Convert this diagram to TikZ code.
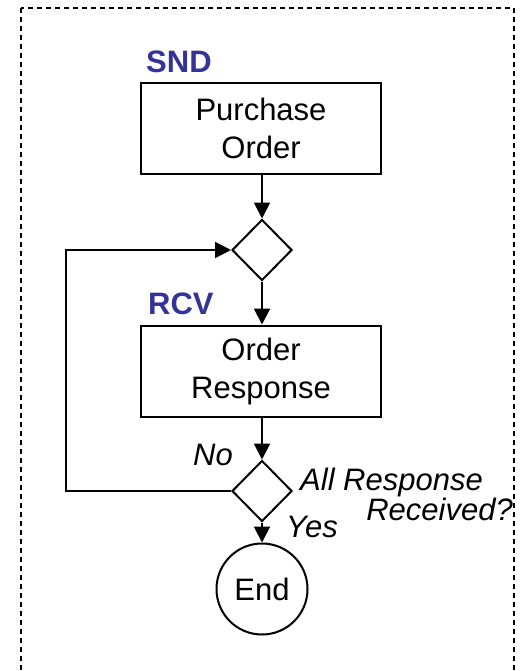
\documentclass[tikz,border=0pt]{standalone}
\usepackage{fontspec}
\setmainfont{Liberation Sans}
\usetikzlibrary{shapes.geometric,arrows.meta}
\definecolor{rolecol}{HTML}{333399}

\begin{document}
\begin{tikzpicture}[x=1pt,y=-1pt,
  txt/.style={font=\fontsize{31}{38}\selectfont},
  proc/.style={txt,draw,line width=2pt,minimum width=240pt,minimum height=91pt,align=center,inner sep=0pt},
  dec/.style={draw,diamond,line width=2pt,minimum width=60pt,minimum height=61pt,inner sep=0pt},
  term/.style={txt,draw,circle,line width=2pt,minimum size=91pt,inner sep=0pt},
  role/.style={font=\bfseries\fontsize{31}{36}\selectfont,text=rolecol,inner sep=0pt},
  lbl/.style={font=\itshape\fontsize{31}{36}\selectfont,inner sep=0pt},
  flow/.style={line width=2pt,-{Triangle[length=16pt,width=16pt]}},
  frame/.style={line width=1.3pt,dash pattern=on 5pt off 4pt}
]
\useasboundingbox (0,0) rectangle (528,671);
\clip (0,0) rectangle (528,671);

% dashed enclosing frame (open at the bottom edge)
\draw[frame] (21,8) rectangle (514,700);

% flowchart nodes
\node[proc] (porder) at (261,128.5) {Purchase\\Order};
\node[dec]  (d1) at (262,250) {};
\node[proc] (oresp) at (261,371) {Order\\Response};
\node[dec]  (d2) at (262,491) {};
\node[term] (end) at (262,589) {End};
\coordinate (loop) at (66,491);

% role labels
\node[role,anchor=base west] (snd) at (146,73) {SND};
\node[role,anchor=base west] (rcv) at (148,314) {RCV};

% decision labels
\node[lbl,anchor=base east] (no) at (233,465) {No};
\node[lbl,anchor=base west] (q1) at (300,490) {All Response};
\node[lbl,anchor=base east] (q2) at (513,520) {Received?};
\node[lbl,anchor=base west] (yes) at (286,537) {Yes};

% connectors
\draw[flow] (d1.north |- porder.south) -- (d1.north);
\draw[flow] (d1.south) -- (d1.south |- oresp.north);
\draw[flow] (d2.north |- oresp.south) -- (d2.north);
\draw[flow] (d2.south) -- (end.north);
\draw[flow] (d2.west) -- (loop) |- (d1.west);
\end{tikzpicture}
\end{document}
